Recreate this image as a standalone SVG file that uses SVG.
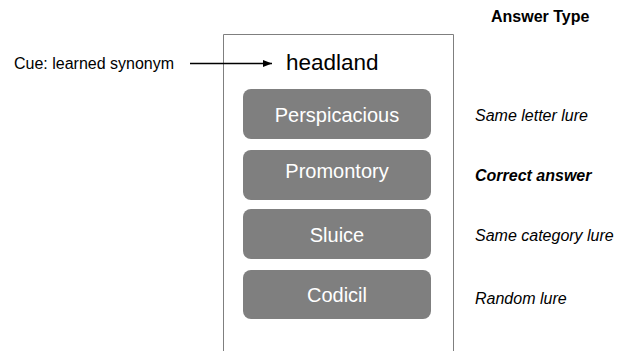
<svg xmlns="http://www.w3.org/2000/svg" width="623" height="351" viewBox="0 0 623 351">
<style>
.t{font-family:"Liberation Sans",Arial,sans-serif;fill:#000}
.btn{fill:#7f7f7f}
.bt{font-family:"Liberation Sans",Arial,sans-serif;font-size:20px;fill:#fff;text-anchor:middle}
.lab{font-family:"Liberation Sans",Arial,sans-serif;font-size:16px;font-style:italic;fill:#000}
</style>
<defs>
<marker id="ah" markerWidth="10" markerHeight="8" refX="9" refY="4" orient="auto" markerUnits="userSpaceOnUse">
<path d="M0,0.5 L9,4 L0,7.5 Z" fill="#000"/>
</marker>
</defs>
<rect width="623" height="351" fill="#fff"/>
<g id="frame"><path d="M223.5,351 V34.5 H453.5 V351" fill="none" stroke="#7f7f7f" stroke-width="1"/></g>
<g id="cue"><text class="t" x="14" y="69" font-size="16">Cue: learned synonym</text></g>
<g id="headland"><text class="t" x="286" y="70" font-size="22.5">headland</text></g>
<g id="connectors"><line x1="190" y1="63.5" x2="272" y2="63.5" stroke="#000" stroke-width="1.3" marker-end="url(#ah)"/></g>
<g id="opt1"><rect class="btn" x="243" y="89" width="188" height="50" rx="8"/><text class="bt" x="337" y="122">Perspicacious</text></g>
<g id="opt2"><rect class="btn" x="243" y="150" width="188" height="50" rx="8"/><text class="bt" x="337" y="178">Promontory</text></g>
<g id="opt3"><rect class="btn" x="243" y="209" width="188" height="50" rx="8"/><text class="bt" x="337" y="242">Sluice</text></g>
<g id="opt4"><rect class="btn" x="243" y="270" width="188" height="49" rx="8"/><text class="bt" x="337" y="302">Codicil</text></g>
<g id="header"><text class="t" x="491" y="22" font-size="16" font-weight="bold">Answer Type</text></g>
<g id="types">
<text class="lab" x="475" y="121">Same letter lure</text>
<text class="lab" x="475" y="181" font-weight="bold">Correct answer</text>
<text class="lab" x="475" y="241">Same category lure</text>
<text class="lab" x="475" y="304">Random lure</text>
</g>
</svg>
